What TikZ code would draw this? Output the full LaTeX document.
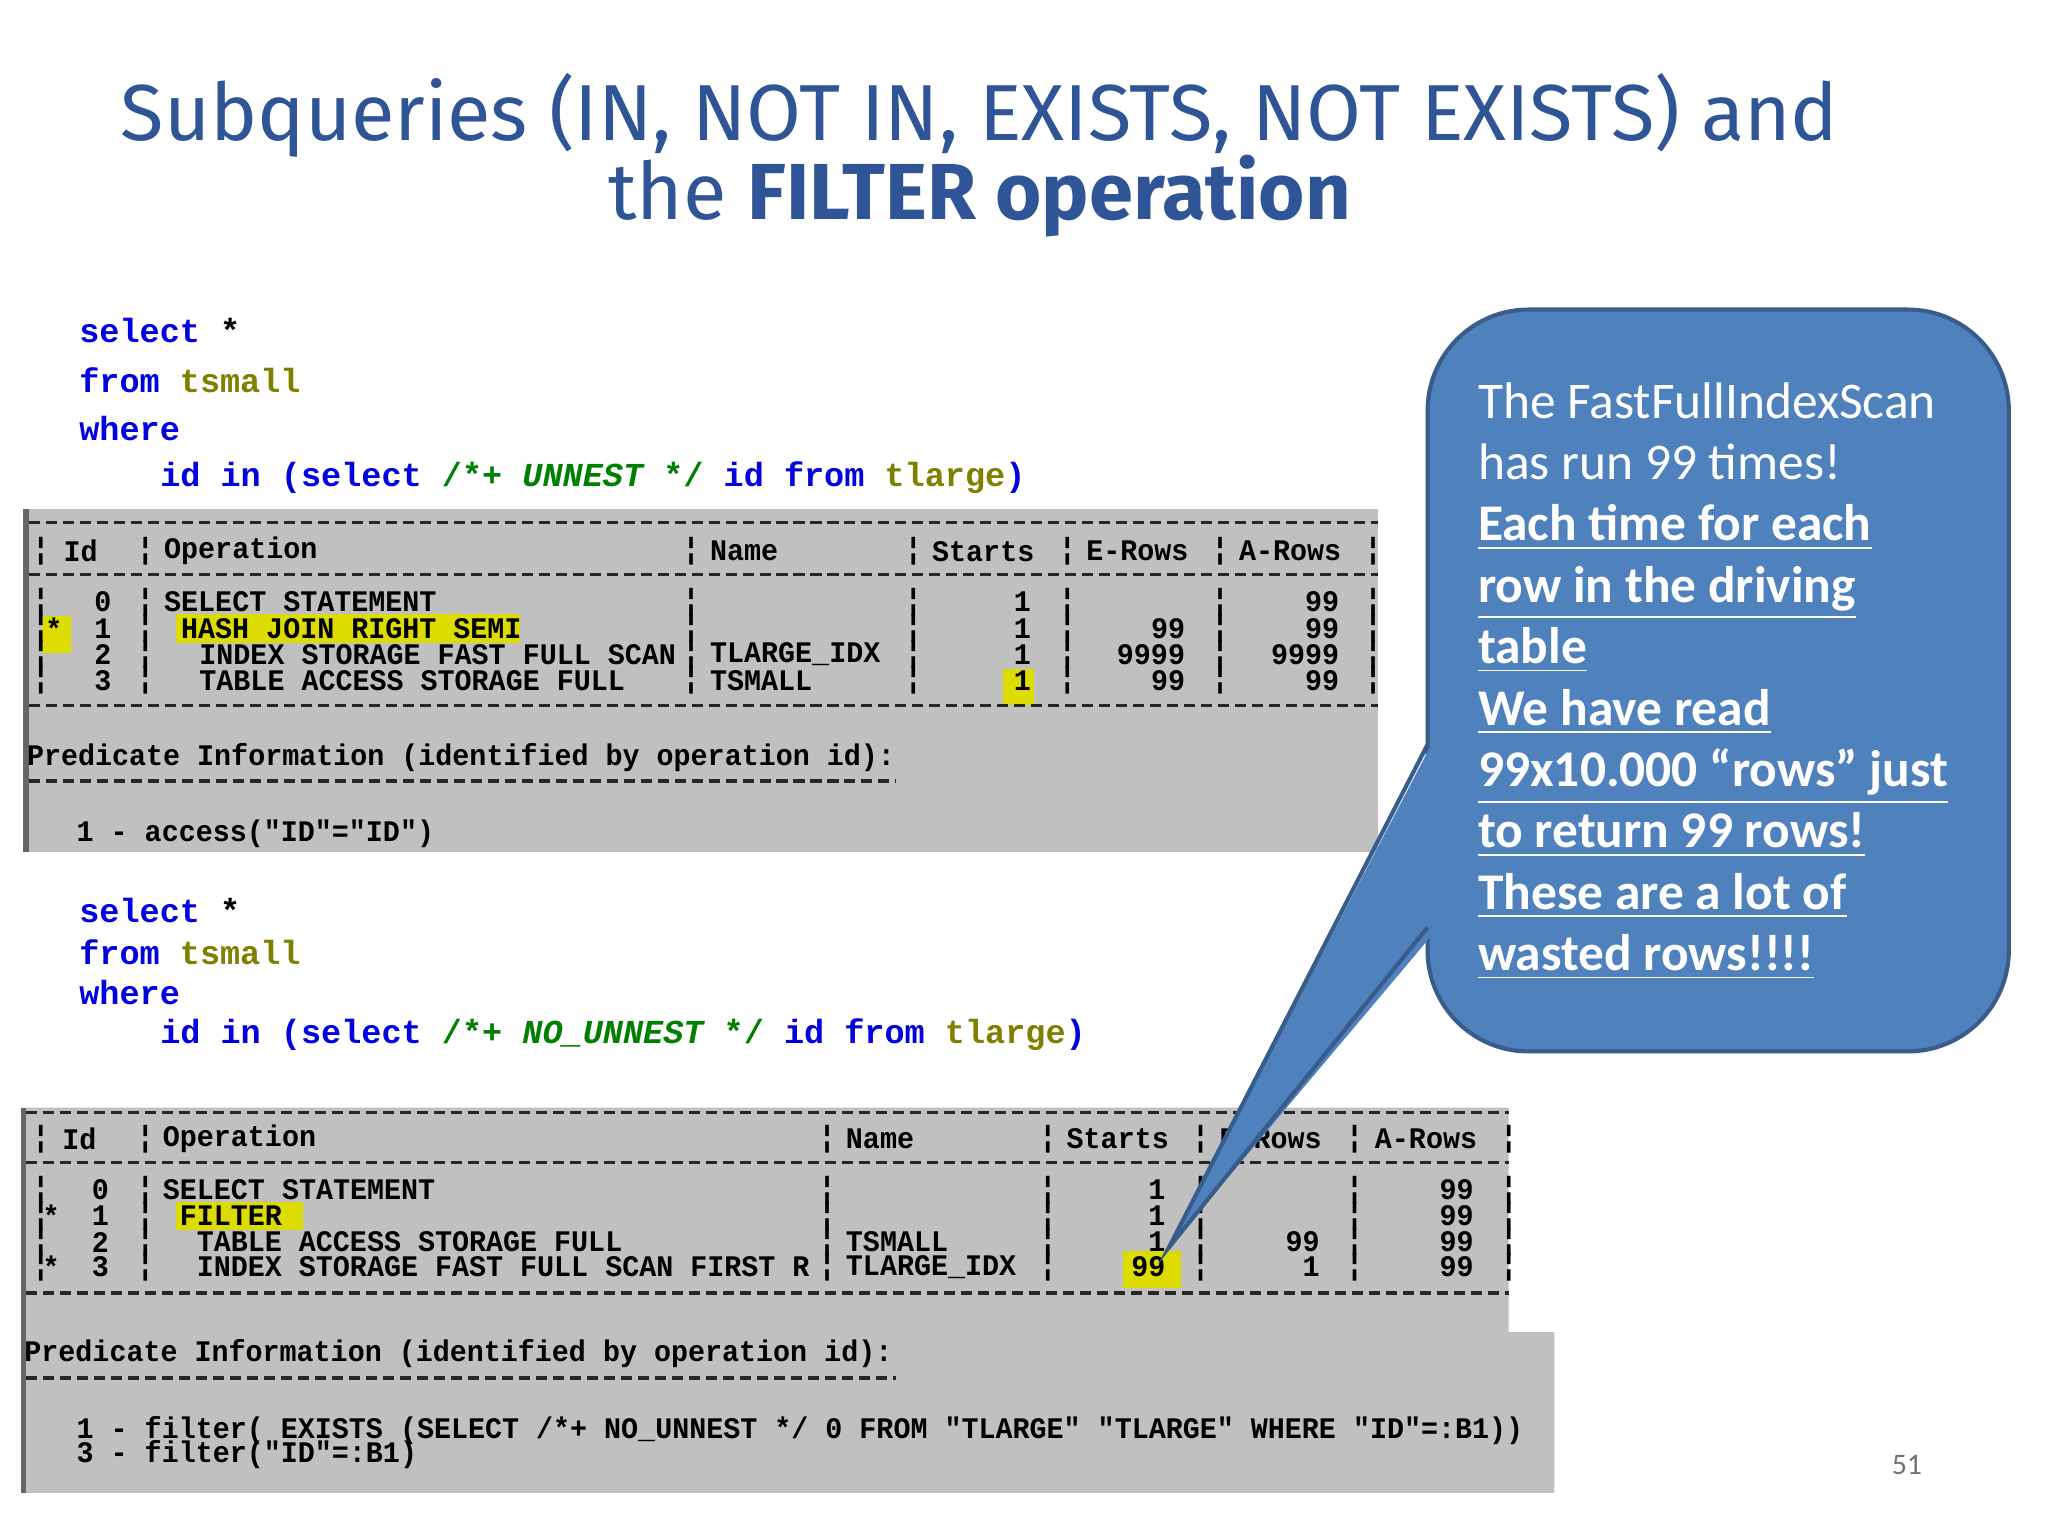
\documentclass[tikz,border=0pt]{standalone}
\usepackage{fontspec}
\setmainfont{Fira Sans}
\newfontfamily\codefont{Liberation Mono}
\newfontfamily\callfont{Carlito}
\definecolor{titleblue}{HTML}{2F5597}
\definecolor{kw}{HTML}{0000E0}
\definecolor{ol}{HTML}{808000}
\definecolor{gr}{HTML}{008000}
\definecolor{panel}{HTML}{C0C0C0}
\definecolor{hl}{HTML}{DCDC00}
\definecolor{callfill}{HTML}{4F81BD}
\definecolor{callline}{HTML}{385D8A}
\newcommand\tabtxt[1]{\scalebox{0.95}[1]{#1}}
\tikzset{
 tt/.style={font=\codefont\bfseries\fontsize{6.5}{7}\selectfont, inner sep=0, anchor=west},
 ttr/.style={tt, anchor=east},
 code/.style={font=\codefont\bfseries\fontsize{7.3}{9}\selectfont, inner sep=0, anchor=west},
 sep/.style={line width=0.7pt, dash pattern=on 2.4pt off 1.3pt, black!85},
 hlbox/.style={fill=hl}
}
\begin{document}
\begin{tikzpicture}[x=0.01cm,y=-0.01cm]
\useasboundingbox (0,0) rectangle (1568,1176);
\fill[white] (0,0) rectangle (1568,1176);
% title
\node[font=\fontsize{17.3}{22}\selectfont, text=titleblue, inner sep=0] (t1) at (750,88) {Subqueries (IN, NOT IN, EXISTS, NOT EXISTS) and};
\node[font=\fontsize{17.3}{22}\selectfont, text=titleblue, inner sep=0] (t2) at (750,150) {the \textbf{FILTER operation}};
% code 1
\node[code] (c1) at (60,253) {\textcolor{kw}{select} *};
\node[code] (c2) at (60,291) {\textcolor{kw}{from} \textcolor{ol}{tsmall}};
\node[code] (c3) at (60,328) {\textcolor{kw}{where}};
\node[code] (c4) at (122,366) {\textcolor{kw}{id in (select} \textcolor{gr}{/*+ \itshape UNNEST\upshape{} */} \textcolor{kw}{id from} \textcolor{ol}{tlarge}\textcolor{kw}{)}};
% panel 1
\fill[panel] (20,390) rectangle (1055,652);
\draw[line width=1.2pt, black!60] (20,390) -- (20,652);
\fill[hlbox] (135,470) rectangle (398,492);
\fill[hlbox] (32,472) rectangle (54,500);
\fill[hlbox] (768,512) rectangle (792,540);
\foreach \yy in {400,440,540} \draw[sep] (22,\yy) -- (1055,\yy);
\draw[sep] (22,598) -- (686,598);
\foreach \bx in {24,104,522,692,810,927,1044}
 \foreach \by in {422,461,481,501,521} \node[tt] at (\bx,\by) {\tabtxt{¦}};
\node[tt] (h1) at (48,422) {\tabtxt{Id}};
\node[tt] (h2) at (125,422) {\tabtxt{Operation}};
\node[tt] (h3) at (543,422) {\tabtxt{Name}};
\node[tt] (h4) at (713,422) {\tabtxt{Starts}};
\node[tt] (h5) at (831,422) {\tabtxt{E-Rows}};
\node[tt] (h6) at (948,422) {\tabtxt{A-Rows}};
\node[tt] (s1) at (34,481) {\tabtxt{*}};
\node[ttr] (i0) at (86,461) {\tabtxt{0}};
\node[ttr] (i1) at (86,481) {\tabtxt{1}};
\node[ttr] (i2) at (86,501) {\tabtxt{2}};
\node[ttr] (i3) at (86,521) {\tabtxt{3}};
\node[tt] (o0) at (125,461) {\tabtxt{SELECT STATEMENT}};
\node[tt] (o1) at (138,481) {\tabtxt{HASH JOIN RIGHT SEMI}};
\node[tt] (o2) at (152,501) {\tabtxt{INDEX STORAGE FAST FULL SCAN}};
\node[tt] (o3) at (152,521) {\tabtxt{TABLE ACCESS STORAGE FULL}};
\node[tt] (n2) at (543,501) {\tabtxt{TLARGE\_IDX}};
\node[tt] (n3) at (543,521) {\tabtxt{TSMALL}};
\node[ttr] (st0) at (790,461) {\tabtxt{1}};
\node[ttr] (st1) at (790,481) {\tabtxt{1}};
\node[ttr] (st2) at (790,501) {\tabtxt{1}};
\node[ttr] (st3) at (790,521) {\tabtxt{1}};
\node[ttr] (e1) at (908,481) {\tabtxt{99}};
\node[ttr] (e2) at (908,501) {\tabtxt{9999}};
\node[ttr] (e3) at (908,521) {\tabtxt{99}};
\node[ttr] (a0) at (1026,461) {\tabtxt{99}};
\node[ttr] (a1) at (1026,481) {\tabtxt{99}};
\node[ttr] (a2) at (1026,501) {\tabtxt{9999}};
\node[ttr] (a3) at (1026,521) {\tabtxt{99}};
\node[tt] (p1) at (20,580) {\tabtxt{Predicate Information (identified by operation id):}};
\node[tt] (p2) at (58,638) {\tabtxt{1 - access("ID"="ID")}};
% code 2
\node[code] (d1) at (60,697) {\textcolor{kw}{select} *};
\node[code] (d2) at (60,729) {\textcolor{kw}{from} \textcolor{ol}{tsmall}};
\node[code] (d3) at (60,760) {\textcolor{kw}{where}};
\node[code] (d4) at (122,792) {\textcolor{kw}{id in (select} \textcolor{gr}{/*+ \itshape NO\_UNNEST\upshape{} */} \textcolor{kw}{id from} \textcolor{ol}{tlarge}\textcolor{kw}{)}};
% panel 2
\fill[panel] (18,848) -- (1155,848) -- (1155,1020) -- (1190,1020) -- (1190,1143) -- (18,1143) -- cycle;
\draw[line width=1.2pt, black!60] (18,848) -- (18,1143);
\fill[hlbox] (135,920) rectangle (232,942);
\fill[hlbox] (860,958) rectangle (904,986);
\foreach \yy in {852,890,990} \draw[sep] (20,\yy) -- (1155,\yy);
\draw[sep] (20,1055) -- (686,1055);
\foreach \bx in {24,104,626,795,912,1030,1148}
 \foreach \by in {872,911,931,951,970} \node[tt] at (\bx,\by) {\tabtxt{¦}};
\node[tt] (g1) at (47,872) {\tabtxt{Id}};
\node[tt] (g2) at (124,872) {\tabtxt{Operation}};
\node[tt] (g3) at (647,872) {\tabtxt{Name}};
\node[tt] (g4) at (816,872) {\tabtxt{Starts}};
\node[tt] (g5) at (933,872) {\tabtxt{E-Rows}};
\node[tt] (g6) at (1052,872) {\tabtxt{A-Rows}};
\node[tt] (u1) at (32,931) {\tabtxt{*}};
\node[tt] (u3) at (32,970) {\tabtxt{*}};
\node[ttr] (j0) at (84,911) {\tabtxt{0}};
\node[ttr] (j1) at (84,931) {\tabtxt{1}};
\node[ttr] (j2) at (84,951) {\tabtxt{2}};
\node[ttr] (j3) at (84,970) {\tabtxt{3}};
\node[tt] (q0) at (124,911) {\tabtxt{SELECT STATEMENT}};
\node[tt] (q1) at (137,931) {\tabtxt{FILTER}};
\node[tt] (q2) at (150,951) {\tabtxt{TABLE ACCESS STORAGE FULL}};
\node[tt] (q3) at (150,970) {\tabtxt{INDEX STORAGE FAST FULL SCAN FIRST R}};
\node[tt] (m2) at (647,951) {\tabtxt{TSMALL}};
\node[tt] (m3) at (647,970) {\tabtxt{TLARGE\_IDX}};
\node[ttr] (r0) at (893,911) {\tabtxt{1}};
\node[ttr] (r1) at (893,931) {\tabtxt{1}};
\node[ttr] (r2) at (893,951) {\tabtxt{1}};
\node[ttr] (r3) at (893,970) {\tabtxt{99}};
\node[ttr] (f2) at (1011,951) {\tabtxt{99}};
\node[ttr] (f3) at (1011,970) {\tabtxt{1}};
\node[ttr] (b0) at (1129,911) {\tabtxt{99}};
\node[ttr] (b1) at (1129,931) {\tabtxt{99}};
\node[ttr] (b2) at (1129,951) {\tabtxt{99}};
\node[ttr] (b3) at (1129,970) {\tabtxt{99}};
\node[tt] (pp1) at (18,1036) {\tabtxt{Predicate Information (identified by operation id):}};
\node[tt] (pp2) at (58,1095) {\tabtxt{1 - filter( EXISTS (SELECT /*+ NO\_UNNEST */ 0 FROM "TLARGE" "TLARGE" WHERE "ID"=:B1))}};
\node[tt] (pp3) at (58,1114) {\tabtxt{3 - filter("ID"=:B1)}};
% callout
\draw[fill=callfill, draw=callline, line width=0.9pt, rounded corners=22pt] (1093,237) rectangle (1538,805);
\fill[callfill] (1098,566) -- (895,955) -- (1098,714) -- cycle;
\draw[callline, line width=0.9pt] (1093,570) -- (895,955) -- (1093,710);
\node[anchor=north west, inner sep=0, align=left, text=white, font=\callfont\fontsize{11.2}{13.37}\selectfont] (call) at (1131,292) {The FastFullIndexScan\\
has run 99 times!\\
\textbf{\underline{Each time for each}}\\
\textbf{\underline{row in the driving}}\\
\textbf{\underline{table}}\\
\textbf{\underline{We have read}}\\
\textbf{\underline{99x10.000 “rows” just}}\\
\textbf{\underline{to return 99 rows!}}\\
\textbf{\underline{These are a lot of}}\\
\textbf{\underline{wasted rows!!!!}}};
\node[font=\callfont\fontsize{6.5}{8}\selectfont, text=black!55] (pg) at (1460,1122) {51};
\end{tikzpicture}
\end{document}
